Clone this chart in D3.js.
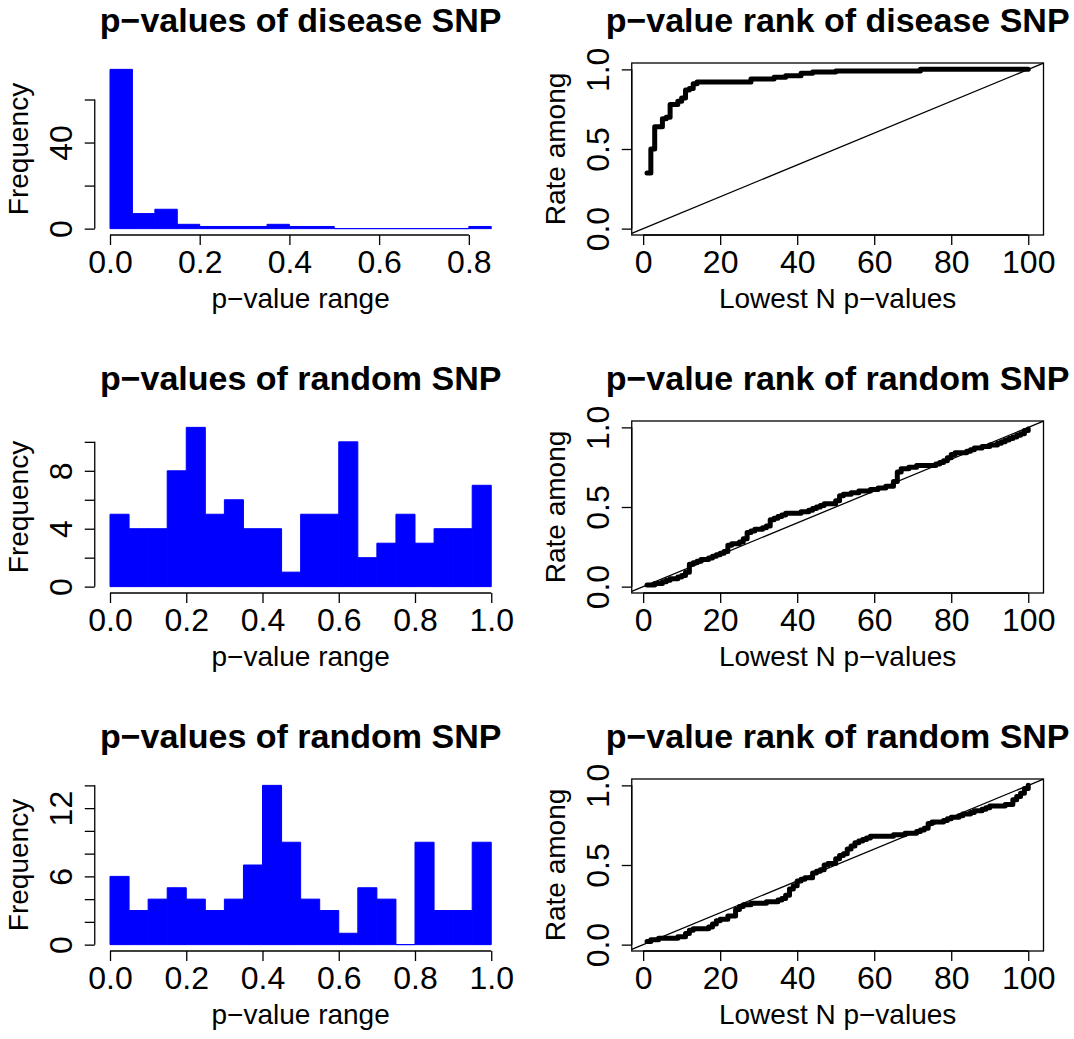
<!DOCTYPE html>
<html lang="en">
<head>
<meta charset="UTF-8">
<title>p-values of disease and random SNP</title>
<script src="https://cdn.jsdelivr.net/npm/d3@7"></script>
<style>
  body { margin: 0; background: #fff; }
  text { font-family: "Liberation Sans", Arial, Helvetica, sans-serif; fill: #000; }
</style>
</head>
<body>
<script>
// histogram bin edges
var breaksDisease = [0, 0.05, 0.1, 0.15, 0.2, 0.25, 0.3, 0.35, 0.4, 0.45, 0.5,
                     0.55, 0.6, 0.65, 0.7, 0.75, 0.8, 0.85];
var breaksRandom = [0, 0.05, 0.1, 0.15, 0.2, 0.25, 0.3, 0.35, 0.4, 0.45, 0.5,
                    0.55, 0.6, 0.65, 0.7, 0.75, 0.8, 0.85, 0.9, 0.95, 1];

// histogram counts
var countsDisease = [74, 7, 9, 2, 1, 1, 1, 2, 1, 1, 0, 0, 0, 0, 0, 0, 1];
var countsRandomA = [5, 4, 4, 8, 11, 5, 6, 4, 4, 1, 5, 5, 10, 2, 3, 5, 3, 4, 4, 7];
var countsRandomB = [6, 3, 4, 5, 4, 3, 4, 7, 14, 9, 4, 3, 1, 5, 4, 0, 9, 3, 3, 9];

// rate among lowest N p-values, N = 1..100
var rankDisease = [
  0.35, 0.50, 0.64, 0.64, 0.69, 0.70, 0.78, 0.78, 0.80, 0.82,
  0.87, 0.88, 0.91, 0.92, 0.92, 0.92, 0.92, 0.92, 0.92, 0.92,
  0.92, 0.92, 0.92, 0.92, 0.92, 0.92, 0.92, 0.94, 0.94, 0.94,
  0.94, 0.94, 0.94, 0.95, 0.95, 0.95, 0.96, 0.96, 0.96, 0.96,
  0.975, 0.975, 0.975, 0.983, 0.983, 0.983, 0.983, 0.983, 0.983, 0.99,
  0.99, 0.99, 0.99, 0.99, 0.99, 0.99, 0.99, 0.99, 0.99, 0.99,
  0.99, 0.99, 0.99, 0.99, 0.99, 0.99, 0.99, 0.99, 0.99, 0.99,
  0.99, 1, 1, 1, 1, 1, 1, 1, 1, 1,
  1, 1, 1, 1, 1, 1, 1, 1, 1, 1,
  1, 1, 1, 1, 1, 1, 1, 1, 1, 1
];
var rankRandomA = [
  0.01, 0.01, 0.02, 0.02, 0.03, 0.04, 0.05, 0.05, 0.06, 0.07,
  0.09, 0.14, 0.15, 0.16, 0.17, 0.17, 0.18, 0.19, 0.20, 0.21,
  0.22, 0.26, 0.27, 0.27, 0.28, 0.30, 0.34, 0.35, 0.36, 0.36,
  0.37, 0.38, 0.42, 0.43, 0.44, 0.45, 0.46, 0.46, 0.46, 0.46,
  0.47, 0.47, 0.48, 0.49, 0.50, 0.51, 0.52, 0.52, 0.52, 0.54,
  0.57, 0.58, 0.58, 0.59, 0.59, 0.60, 0.60, 0.60, 0.61, 0.61,
  0.62, 0.62, 0.63, 0.63, 0.66, 0.72, 0.74, 0.74, 0.75, 0.75,
  0.76, 0.76, 0.76, 0.76, 0.76, 0.77, 0.78, 0.79, 0.81, 0.83,
  0.84, 0.84, 0.84, 0.85, 0.86, 0.87, 0.87, 0.88, 0.88, 0.89,
  0.89, 0.90, 0.91, 0.92, 0.93, 0.94, 0.95, 0.96, 0.98, 0.99
];
var rankRandomB = [
  0.02, 0.03, 0.03, 0.04, 0.04, 0.04, 0.04, 0.04, 0.05, 0.05,
  0.07, 0.09, 0.10, 0.10, 0.10, 0.10, 0.11, 0.13, 0.15, 0.16,
  0.16, 0.18, 0.18, 0.22, 0.24, 0.25, 0.25, 0.26, 0.26, 0.26,
  0.26, 0.27, 0.27, 0.27, 0.28, 0.29, 0.31, 0.35, 0.37, 0.40,
  0.41, 0.42, 0.42, 0.45, 0.46, 0.47, 0.50, 0.51, 0.51, 0.54,
  0.56, 0.57, 0.60, 0.62, 0.64, 0.65, 0.66, 0.67, 0.68, 0.68,
  0.68, 0.68, 0.68, 0.68, 0.69, 0.69, 0.69, 0.70, 0.70, 0.70,
  0.71, 0.72, 0.73, 0.76, 0.77, 0.77, 0.77, 0.78, 0.79, 0.80,
  0.80, 0.81, 0.82, 0.82, 0.83, 0.84, 0.84, 0.85, 0.86, 0.87,
  0.87, 0.87, 0.87, 0.88, 0.88, 0.91, 0.93, 0.95, 0.98, 1.00
];

// titles and ticks
var histTitles = ["p\u2212values of disease SNP", "p\u2212values of random SNP", "p\u2212values of random SNP"];
var rankTitles = ["p\u2212value rank of disease SNP", "p\u2212value rank of random SNP", "p\u2212value rank of random SNP"];
var histXTicks = [[0, 0.2, 0.4, 0.6, 0.8], [0, 0.2, 0.4, 0.6, 0.8, 1], [0, 0.2, 0.4, 0.6, 0.8, 1]];
var histYTicks = [[0, 20, 40, 60], [0, 2, 4, 6, 8, 10], [0, 2, 4, 6, 8, 10, 12, 14]];
var histYLabels = [[0, 40], [0, 4, 8], [0, 6, 12]];
var rankXTicks = [0, 20, 40, 60, 80, 100];
var rankYTicks = [0, 0.5, 1];

var histData = [
  {breaks: breaksDisease, counts: countsDisease},
  {breaks: breaksRandom, counts: countsRandomA},
  {breaks: breaksRandom, counts: countsRandomB}
];
var rankData = [rankDisease, rankRandomA, rankRandomB];

// page layout (R style mfrow 3x2)
var ancho = 1074, alto = 1039, paso_fila = 358, paso_col = 537;
var caja = {izq: 94.75, dch: 506.5, sup: 63, inf: 235};
var lw = 1.3;

var svg = d3.select("body").append("svg")
  .attr("width", ancho).attr("height", alto);

function titulos(g, main, xlab, ylab) {
  var cx = (caja.izq + caja.dch) / 2, cy = (caja.sup + caja.inf) / 2;
  g.append("text").attr("x", cx).attr("y", 32).attr("text-anchor", "middle")
    .attr("font-size", 34).attr("font-weight", "bold").text(main);
  g.append("text").attr("x", cx).attr("y", 308).attr("text-anchor", "middle")
    .attr("font-size", 28).text(xlab);
  g.append("text").attr("transform", "translate(28," + cy + ") rotate(-90)")
    .attr("text-anchor", "middle").attr("font-size", 28).text(ylab);
}

function ejes(g, x, y, xt, yt, fx, fy) {
  // bottom axis, line only between first and last tick (like R)
  var ax = g.append("g").attr("transform", "translate(0," + caja.inf + ")")
    .call(d3.axisBottom(x).tickValues(xt).tickSize(10).tickFormat(fx));
  ax.attr("font-size", 32).attr("font-family", null);
  ax.select(".domain").remove();
  ax.append("line").attr("x1", x(xt[0])).attr("x2", x(xt[xt.length - 1]))
    .attr("stroke", "#000").attr("stroke-width", lw);
  ax.selectAll(".tick line").attr("stroke-width", lw);
  ax.selectAll(".tick text").attr("y", 37.5).attr("dy", null);

  var ay = g.append("g").attr("transform", "translate(" + caja.izq + ",0)")
    .call(d3.axisLeft(y).tickValues(yt).tickSize(10).tickFormat(fy));
  ay.attr("font-size", 32).attr("font-family", null);
  ay.select(".domain").remove();
  ay.append("line").attr("y1", y(yt[0])).attr("y2", y(yt[yt.length - 1]))
    .attr("stroke", "#000").attr("stroke-width", lw);
  ay.selectAll(".tick line").attr("stroke-width", lw);
  ay.selectAll(".tick text").attr("x", null).attr("dy", null)
    .attr("text-anchor", "middle")
    .attr("transform", "translate(-22.75,0) rotate(-90)");
}

function histograma(g, d, fila) {
  var lo = d.breaks[0], hi = d.breaks[d.breaks.length - 1], pad = (hi - lo) * 0.04;
  var x = d3.scaleLinear().domain([lo - pad, hi + pad]).range([caja.izq, caja.dch]);
  var ymax = d3.max(d.counts);
  var y = d3.scaleLinear().domain([-ymax * 0.04, ymax * 1.04]).range([caja.inf, caja.sup]);

  // bars as paths so that empty bins still show their border
  g.selectAll("path.barra").data(d.counts).join("path")
    .attr("class", "barra")
    .attr("d", function(c, i) {
      return "M" + x(d.breaks[i]) + "," + y(0) + "V" + y(c) +
             "H" + x(d.breaks[i + 1]) + "V" + y(0) + "Z";
    })
    .attr("fill", "#0000ff").attr("stroke", "#0000ff").attr("stroke-width", 1);

  var etiq = histYLabels[fila];
  ejes(g, x, y, histXTicks[fila], histYTicks[fila], d3.format(".1f"),
       function(v) { return etiq.indexOf(v) >= 0 ? String(v) : ""; });
  titulos(g, histTitles[fila], "p\u2212value range", "Frequency");
}

function rango(g, valores, fila) {
  var n = valores.length, pad = (n - 1) * 0.04;
  var x = d3.scaleLinear().domain([1 - pad, n + pad]).range([caja.izq, caja.dch]);
  var y = d3.scaleLinear().domain([-0.04, 1.04]).range([caja.inf, caja.sup]);
  var dom = x.domain();

  // reference line y = x / 100
  g.append("line")
    .attr("x1", x(dom[0])).attr("y1", y(dom[0] / 100))
    .attr("x2", x(dom[1])).attr("y2", y(dom[1] / 100))
    .attr("stroke", "#000").attr("stroke-width", lw);

  var linea = d3.line()
    .x(function(v, i) { return x(i + 1); })
    .y(function(v) { return y(v); })
    .curve(d3.curveStepAfter);
  g.append("path").datum(valores)
    .attr("d", linea).attr("fill", "none").attr("stroke", "#000")
    .attr("stroke-width", 5).attr("stroke-linejoin", "round").attr("stroke-linecap", "round");

  g.append("rect").attr("x", caja.izq).attr("y", caja.sup)
    .attr("width", caja.dch - caja.izq).attr("height", caja.inf - caja.sup)
    .attr("fill", "none").attr("stroke", "#000").attr("stroke-width", lw);

  ejes(g, x, y, rankXTicks, rankYTicks, d3.format("d"), d3.format(".1f"));
  titulos(g, rankTitles[fila], "Lowest N p\u2212values", "Rate among");
}

for (var f = 0; f < 3; f++) {
  var gh = svg.append("g").attr("transform", "translate(0," + (f * paso_fila) + ")");
  histograma(gh, histData[f], f);
  var gr = svg.append("g").attr("transform", "translate(" + paso_col + "," + (f * paso_fila) + ")");
  rango(gr, rankData[f], f);
}
</script>
</body>
</html>
